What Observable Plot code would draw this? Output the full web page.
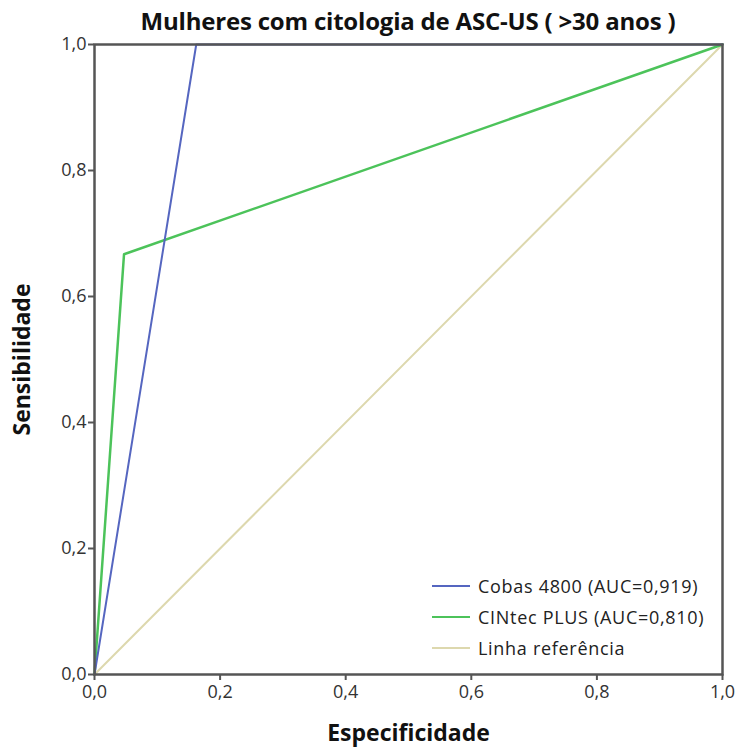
<!DOCTYPE html>
<html>
<head>
<meta charset="utf-8">
<script src="https://cdn.jsdelivr.net/npm/d3@7"></script>
<script src="https://cdn.jsdelivr.net/npm/@observablehq/plot@0.6"></script>
<style>
  body { margin: 0; background: #fff; }
  #wrap { position: relative; width: 738px; height: 751px; font-family: "Open Sans", sans-serif; }
  #title { position: absolute; left: 0; top: 0; width: 628px; height: 40px; line-height: 42px; padding-left: 94px; padding-right: 16px; text-align: center;
           font-weight: bold; font-size: 24px; color: #111; letter-spacing: -0.2px; }
  #legend { position: absolute; left: 432px; top: 570px; font-size: 18px; color: #222; letter-spacing: 0.7px; }
  .row { display: flex; align-items: center; height: 31px; }
  .sw { width: 38px; height: 2px; margin-right: 8px; }
</style>
</head>
<body>
<div id="wrap">
  <div id="chart"></div>
  <div id="title"></div>
  <div id="legend"></div>
</div>
<script>
const titleText = "Mulheres com citologia de ASC-US ( >30 anos )";
const xLabel = "Especificidade";
const yLabel = "Sensibilidade";
const tickValues = [0, 0.2, 0.4, 0.6, 0.8, 1.0];
const tickLabels = ["0,0", "0,2", "0,4", "0,6", "0,8", "1,0"];

const seriesNames = ["Cobas 4800 (AUC=0,919)", "CINtec PLUS (AUC=0,810)", "Linha referência"];
const seriesColors = ["#5566c0", "#4cc35a", "#ddd8ae"];

const cobasX = [0, 0.162, 1];
const cobasY = [0, 1, 1];
const cintecX = [0, 0.047, 1];
const cintecY = [0, 0.667, 1];
const refX = [0, 1];
const refY = [0, 1];

const toRows = (xs, ys, s) => xs.map((x, i) => ({x, y: ys[i], s}));
const cobas = toRows(cobasX, cobasY, seriesNames[0]);
const cintec = toRows(cintecX, cintecY, seriesNames[1]);
const ref = toRows(refX, refY, seriesNames[2]);

document.getElementById("title").textContent = titleText;

const fmt = d => tickLabels[tickValues.indexOf(d)] ?? d;

const chart = Plot.plot({
  width: 738,
  height: 751,
  marginLeft: 94,
  marginRight: 16,
  marginTop: 44,
  marginBottom: 77,
  style: { fontFamily: "Open Sans, sans-serif", fontSize: "18px", color: "#333", background: "#fff" },
  x: { domain: [0, 1], label: null },
  y: { domain: [0, 1], label: null },
  marks: [
    Plot.line(ref, {x: "x", y: "y", stroke: seriesColors[2], strokeWidth: 2}),
    Plot.line(cintec, {x: "x", y: "y", stroke: seriesColors[1], strokeWidth: 2.5}),
    Plot.line(cobas, {x: "x", y: "y", stroke: seriesColors[0], strokeWidth: 2}),
    Plot.frame({stroke: "#555", strokeWidth: 2.5}),
    Plot.axisX({ticks: tickValues, tickFormat: fmt, tickSize: 6, stroke: "#555", strokeWidth: 2, fontSize: 18, fill: "#333", tickPadding: 5}),
    Plot.axisY({ticks: tickValues, tickFormat: fmt, tickSize: 6, stroke: "#555", strokeWidth: 2, fontSize: 18, fill: "#333", tickPadding: 2}),
    Plot.text([xLabel], {frameAnchor: "bottom", dy: 66, text: d => d, fontSize: 23, fontWeight: "bold", fill: "#111"}),
    Plot.text([yLabel], {frameAnchor: "left", dx: -72, rotate: -90, textAnchor: "middle", text: d => d, fontSize: 23, fontWeight: "bold", fill: "#111"})
  ]
});
document.getElementById("chart").appendChild(chart);

const legend = document.getElementById("legend");
seriesNames.forEach((n, i) => {
  const row = document.createElement("div");
  row.className = "row";
  const sw = document.createElement("div");
  sw.className = "sw";
  sw.style.background = seriesColors[i];
  const t = document.createElement("span");
  t.textContent = n;
  row.appendChild(sw);
  row.appendChild(t);
  legend.appendChild(row);
});
</script>
</body>
</html>
